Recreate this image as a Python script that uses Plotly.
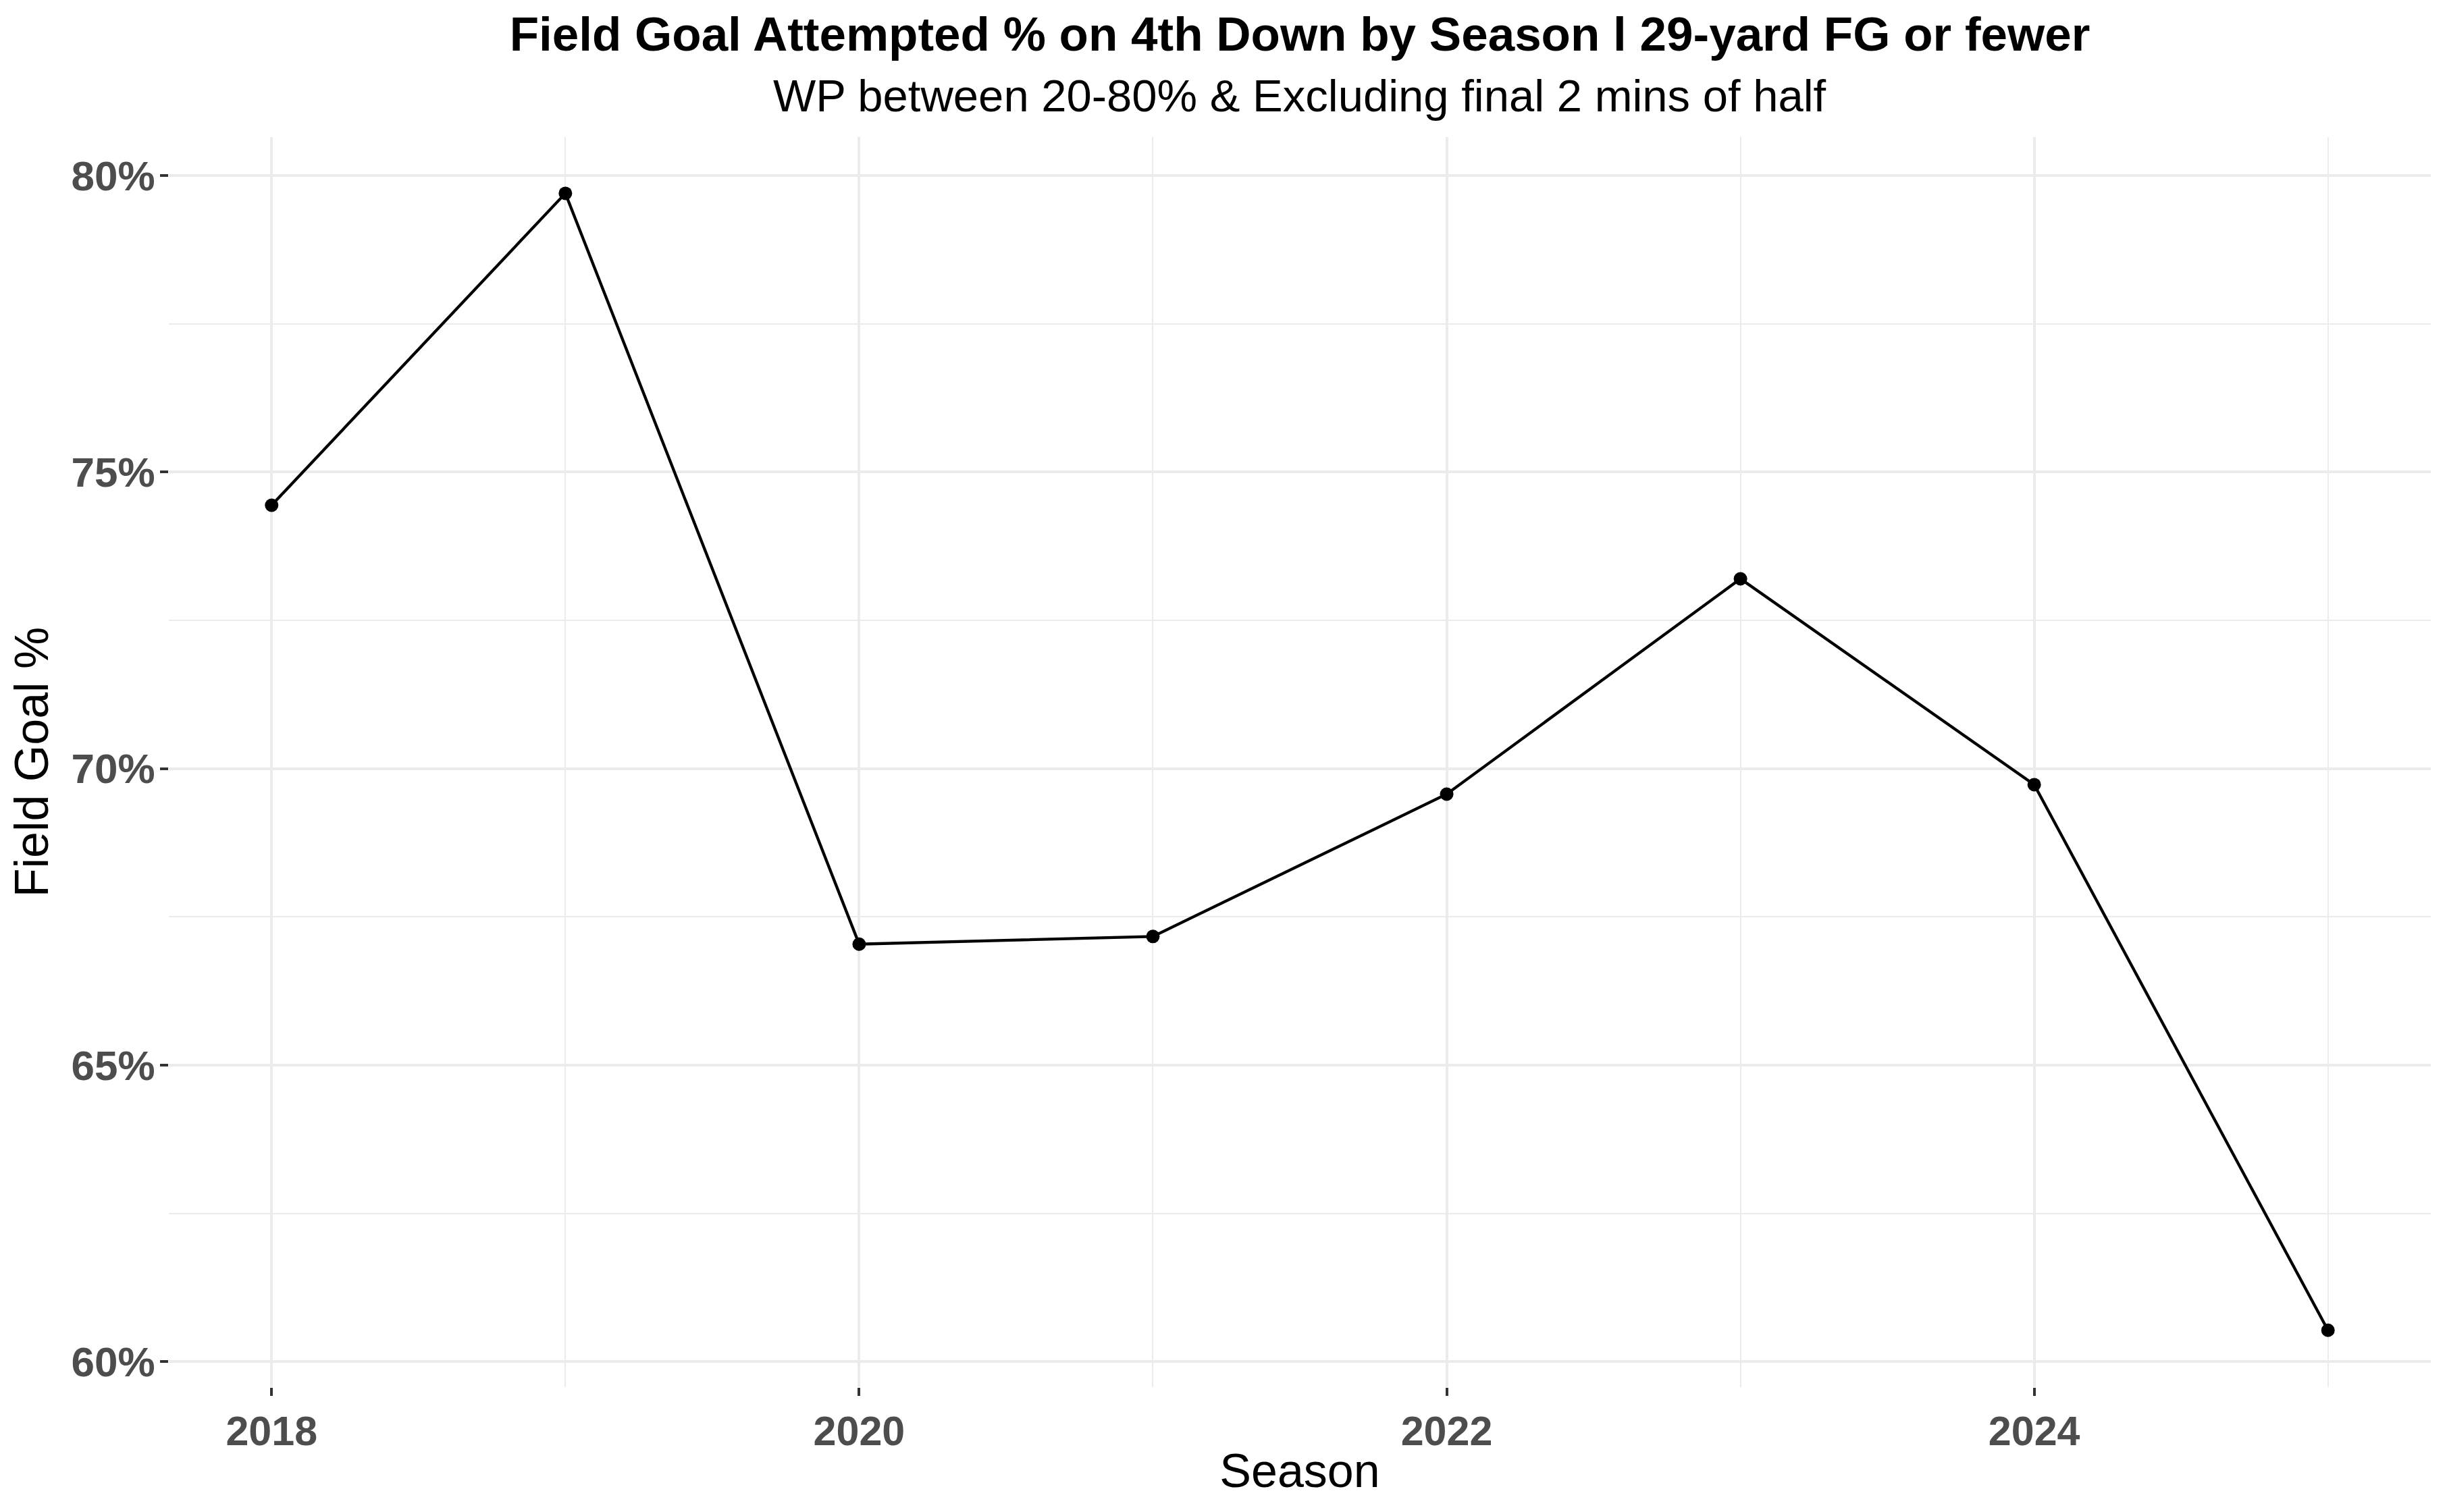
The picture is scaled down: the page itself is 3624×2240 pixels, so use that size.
import plotly.graph_objects as go

seasons = [2018, 2019, 2020, 2021, 2022, 2023, 2024, 2025]
fg_pct = [74.44, 79.70, 67.04, 67.17, 69.57, 73.20, 69.73, 60.53]

y_ticks = [60, 65, 70, 75, 80]
x_ticks = [2018, 2020, 2022, 2024]

title_text = "<b>Field Goal Attempted % on 4th Down by Season l 29-yard FG or fewer</b>"
subtitle_text = "WP between 20-80% & Excluding final 2 mins of half"

FONT = "Liberation Sans, Arial, Helvetica, sans-serif"
# page body has an 8px margin; size the figure to fit the viewport
OFF = 8
W, H = 3624 - 2 * OFF, 2240 - 2 * OFF
ML, MT = 250 - OFF, 203 - OFF
MR = W - (3600 - OFF)
MB = H - (2055 - OFF)
PH = H - MT - MB

fig = go.Figure()
fig.add_trace(go.Scatter(
    x=seasons, y=fg_pct, mode="lines+markers",
    line=dict(color="black", width=4.3),
    marker=dict(color="black", size=20),
    showlegend=False,
))

ymin, ymax = 59.571, 80.649
fig.update_layout(
    width=W, height=H,
    margin=dict(l=ML, r=MR, t=MT, b=MB, pad=0),
    paper_bgcolor="white", plot_bgcolor="white",
    font=dict(family=FONT, color="black"),
    title=dict(text=title_text, x=(ML + (W - MR - ML) / 2) / W, xanchor="center",
               y=1 - (50 - OFF) / H, yanchor="middle", yref="container",
               font=dict(size=71, color="black", family=FONT)),
    xaxis=dict(
        range=[2017.65, 2025.35], tickvals=x_ticks, ticktext=[str(v) for v in x_ticks],
        showgrid=True, gridcolor="#EBEBEB", gridwidth=4,
        minor=dict(dtick=1, tick0=2018, showgrid=True, gridcolor="#EBEBEB", gridwidth=2, ticks=""),
        ticks="outside", ticklen=12, tickwidth=4, tickcolor="#333333",
        tickfont=dict(size=61, color="#4D4D4D", weight="bold", family=FONT),
        zeroline=False, showline=False,
        title=dict(text="Season", font=dict(size=70, color="black", family=FONT), standoff=0),
    ),
    yaxis=dict(
        range=[ymin, ymax], tickvals=y_ticks, ticktext=[f"{v}%" for v in y_ticks],
        showgrid=True, gridcolor="#EBEBEB", gridwidth=4,
        minor=dict(dtick=2.5, tick0=60, showgrid=True, gridcolor="#EBEBEB", gridwidth=2, ticks=""),
        ticks="outside", ticklen=12, tickwidth=4, tickcolor="#333333",
        ticklabelstandoff=-5,
        tickfont=dict(size=62, color="#4D4D4D", weight="bold", family=FONT),
        zeroline=False, showline=False,
        title=dict(text="Field Goal %", font=dict(size=70, color="black", family=FONT), standoff=22),
    ),
    annotations=[dict(
        text=subtitle_text, xref="paper", yref="paper", x=0.5,
        y=((2055 - OFF) - (141 - OFF)) / PH,
        xanchor="center", yanchor="middle", showarrow=False,
        font=dict(size=67, color="black", family=FONT),
    )],
)

fig.write_html("out.html")
